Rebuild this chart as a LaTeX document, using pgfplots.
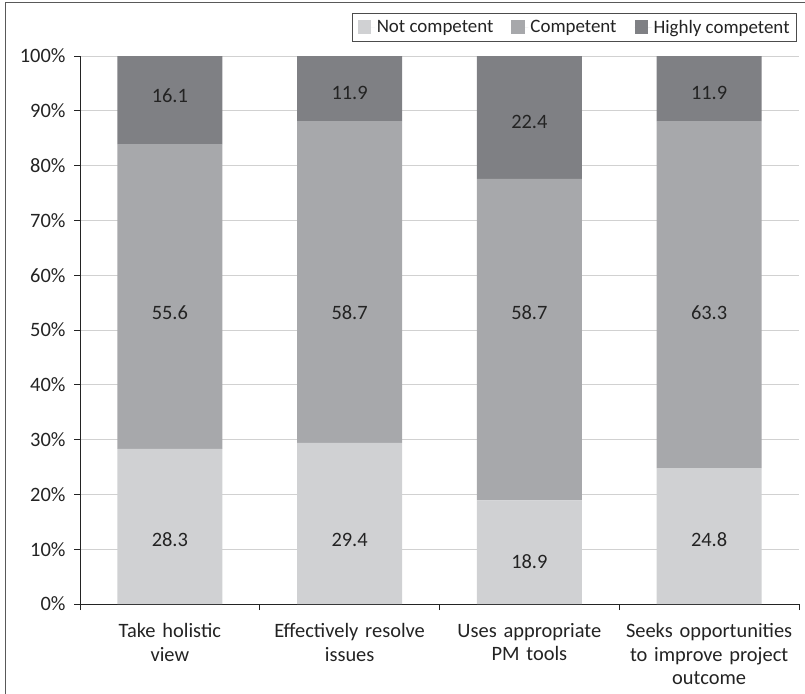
\documentclass[border=0pt]{standalone}
\usepackage{fontspec}
\setmainfont{Carlito}
\usepackage{pgfplots}
\usepackage{pgfplotstable}
\pgfplotsset{compat=1.18}
\definecolor{cNot}{RGB}{208,209,211}
\definecolor{cComp}{RGB}{167,168,171}
\definecolor{cHigh}{RGB}{127,128,132}
\definecolor{axcol}{RGB}{35,35,35}
% values and label offsets (in % units, for label placement)
\pgfplotstableread{
x notc comp high onot ocomp ohigh
0 28.3 55.6 16.1 -2.45 -3.0 0.75
1 29.4 58.7 11.9 -3.0 -5.65 -0.85
2 18.9 58.7 22.4 -1.75 4.85 -0.8
3 24.8 63.3 11.9 -0.7 -3.35 -0.85
}\data
\begin{document}
\begin{tikzpicture}
\useasboundingbox (0,0) rectangle (805bp,-694bp);
\draw[black!65, line width=0.9bp] (5.5bp,-694bp) -- (5.5bp,-2bp) -- (805bp,-2bp);
\begin{axis}[
  at={(80bp,-604bp)}, anchor=south west,
  scale only axis, width=719bp, height=548bp,
  ybar stacked, bar width=105bp,
  xmin=-0.5, xmax=3.5, ymin=0, ymax=100,
  axis x line*=bottom, axis y line*=left,
  axis line style={axcol, line width=1bp, -},
  /pgf/number format/assume math mode=true,
  ytick={0,10,...,100},
  yticklabel={\pgfmathprintnumber{\tick}\%},
  ymajorgrids, grid style={black!18, line width=0.7bp},
  y tick label style={font=\fontsize{20.5}{24}\selectfont, text=axcol, xshift=-5bp},
  ytick style={axcol, line width=1bp},
  major tick length=6bp, tick align=outside,
  xtick={-0.5,0.5,1.5,2.5,3.5},
  xticklabels={},
  xtick style={axcol, line width=1bp},
  extra x ticks={0,1,2,3},
  extra x tick labels={{Take holistic\\view},{Effectively resolve\\issues},{Uses appropriate\\PM tools},{Seeks opportunities\\to improve project\\outcome}},
  extra x tick style={grid=none, major tick length=0pt, tick style={draw=none},
    tick label style={align=center, text width=180bp, font=\fontsize{20.5}{23.5}\selectfont, text=axcol, yshift=-16bp}},
  nodes near coords={\pgfmathprintnumber[fixed,fixed zerofill,precision=1]{\rawy}},
  visualization depends on={rawy \as \rawy},
  every node near coord/.append style={anchor=center, yshift={5.48bp*\off}, font=\fontsize{20.5}{24}\selectfont, text=axcol},
  legend style={at={(1,1)}, anchor=south east, yshift=14bp, xshift=-2bp,
    draw=black!70, line width=0.8bp, font=\fontsize{19}{22}\selectfont, text=axcol,
    inner xsep=5bp, inner ysep=5bp,
    /tikz/every even column/.append style={column sep=16bp}},
  legend columns=3,
  legend image code/.code={\fill[#1, draw=none] (0bp,-6.5bp) rectangle (13.5bp,7bp); \path (0bp,0bp) -- (17bp,0bp);},
]
\addplot[fill=cNot, draw=none, visualization depends on={\thisrow{onot} \as \off}] table[x=x, y=notc] {\data};
\addplot[fill=cComp, draw=none, visualization depends on={\thisrow{ocomp} \as \off}] table[x=x, y=comp] {\data};
\addplot[fill=cHigh, draw=none, visualization depends on={\thisrow{ohigh} \as \off}] table[x=x, y=high] {\data};
\legend{Not competent, Competent, Highly competent}
\end{axis}
\end{tikzpicture}
\end{document}
